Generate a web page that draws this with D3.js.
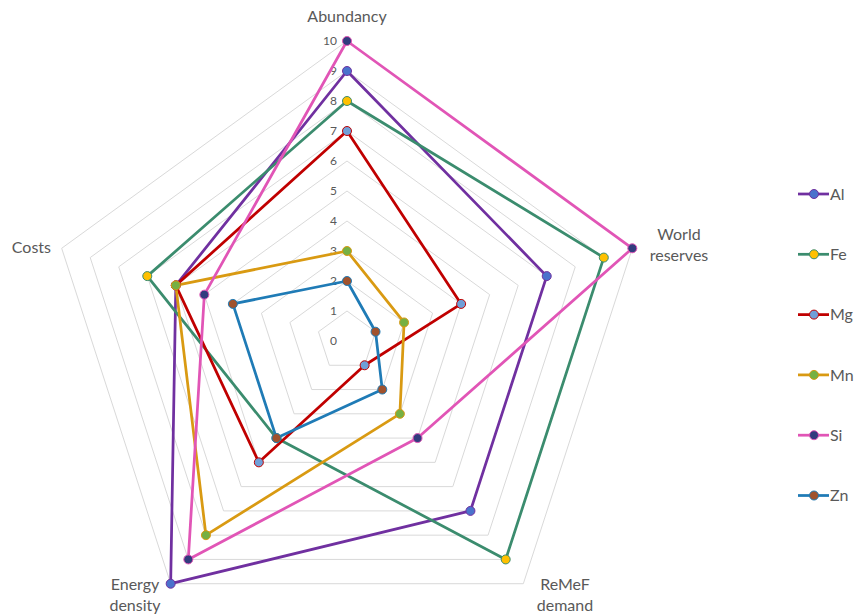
<!DOCTYPE html>
<html>
<head>
<meta charset="utf-8">
<script src="https://cdn.jsdelivr.net/npm/d3@7"></script>
<style>
  body { margin: 0; background: #fff; }
  svg text { font-family: Lato, "Open Sans", sans-serif; fill: #595959; }
</style>
</head>
<body>
<div class="radarChart"></div>
<script>
// chart data
var axes      = [["Abundancy"], ["World", "reserves"], ["ReMeF", "demand"], ["Energy", "density"], ["Costs"]];
var seriesNames = ["Al", "Fe", "Mg", "Mn", "Si", "Zn"];
var alValues  = [9, 7, 7, 10, 6];
var feValues  = [8, 9, 9, 4, 7];
var mgValues  = [7, 4, 1, 5, 6];
var mnValues  = [3, 2, 3, 8, 6];
var siValues  = [10, 10, 4, 9, 5];
var znValues  = [2, 1, 2, 4, 4];
var tickLabels = [0, 1, 2, 3, 4, 5, 6, 7, 8, 9, 10];

var allValues   = [alValues, feValues, mgValues, mnValues, siValues, znValues];
var lineColors  = ["#7030A0", "#3B8C6E", "#C00000", "#D99A12", "#E155B6", "#1F7BB6"];
var markColors  = ["#4A72CC", "#FFC000", "#6F9FD8", "#76B043", "#323C7E", "#A0522D"];

var width = 855, height = 615;
var cx = 347, cy = 341, radius = 300;

var svg = d3.select(".radarChart")
    .append("svg")
    .attr("width", width)
    .attr("height", height);

var r = d3.scaleLinear().domain([0, 10]).range([0, radius]);
var angle = d3.scaleLinear().domain([0, axes.length]).range([0, 2 * Math.PI]);

function pt(i, v) {
    var a = angle(i);
    return [cx + r(v) * Math.sin(a), cy - r(v) * Math.cos(a)];
}

var group = svg.append("g");

// grid pentagons
tickLabels.slice(1).forEach(function (t) {
    var pts = axes.map(function (d, i) { return pt(i, t); });
    group.append("polygon")
        .attr("points", pts.map(function (p) { return p.join(","); }).join(" "))
        .attr("fill", "none")
        .attr("stroke", "#d9d9d9")
        .attr("stroke-width", 1);
});

// tick labels
group.selectAll(".tick")
    .data(tickLabels)
    .enter()
    .append("text")
    .attr("class", "tick")
    .attr("x", cx - 10)
    .attr("y", function (d) { return cy - r(d); })
    .attr("dy", "0.35em")
    .attr("text-anchor", "end")
    .style("font-size", "12px")
    .text(function (d) { return d; });

// axis labels
var labelPos = [
    {x: 347, y: 22, anchor: "middle"},
    {x: 679, y: 240, anchor: "middle"},
    {x: 565, y: 590, anchor: "middle"},
    {x: 135, y: 590, anchor: "middle"},
    {x: 51,  y: 253, anchor: "end"}
];
axes.forEach(function (lines, i) {
    var t = group.append("text")
        .attr("x", labelPos[i].x)
        .attr("y", labelPos[i].y)
        .attr("text-anchor", labelPos[i].anchor)
        .style("font-size", "16px");
    lines.forEach(function (l, j) {
        t.append("tspan")
            .attr("x", labelPos[i].x)
            .attr("dy", j === 0 ? 0 : 21)
            .text(l);
    });
});

var line = d3.line().curve(d3.curveLinearClosed);

// series
allValues.forEach(function (vals, s) {
    var pts = vals.map(function (v, i) { return pt(i, v); });
    group.append("path")
        .attr("d", line(pts))
        .attr("fill", "none")
        .attr("stroke", lineColors[s])
        .attr("stroke-width", 2.75)
        .attr("stroke-linejoin", "round");
});
allValues.forEach(function (vals, s) {
    group.selectAll(".m" + s)
        .data(vals)
        .enter()
        .append("circle")
        .attr("class", "m" + s)
        .attr("cx", function (v, i) { return pt(i, v)[0]; })
        .attr("cy", function (v, i) { return pt(i, v)[1]; })
        .attr("r", 4.5)
        .attr("fill", markColors[s])
        .attr("stroke", lineColors[s])
        .attr("stroke-width", 1);
});

// legend
var legend = svg.append("g").attr("transform", "translate(798,194)");
var item = legend.selectAll(".leg")
    .data(seriesNames)
    .enter()
    .append("g")
    .attr("class", "leg")
    .attr("transform", function (d, i) { return "translate(0," + (i * 60.3) + ")"; });
item.append("line")
    .attr("x1", 0).attr("x2", 31)
    .attr("stroke", function (d, i) { return lineColors[i]; })
    .attr("stroke-width", 2.75);
item.append("circle")
    .attr("cx", 16)
    .attr("r", 4.5)
    .attr("fill", function (d, i) { return markColors[i]; })
    .attr("stroke", function (d, i) { return lineColors[i]; });
item.append("text")
    .attr("x", 32)
    .attr("dy", "0.35em")
    .style("font-size", "16px")
    .text(function (d) { return d; });
</script>
</body>
</html>
